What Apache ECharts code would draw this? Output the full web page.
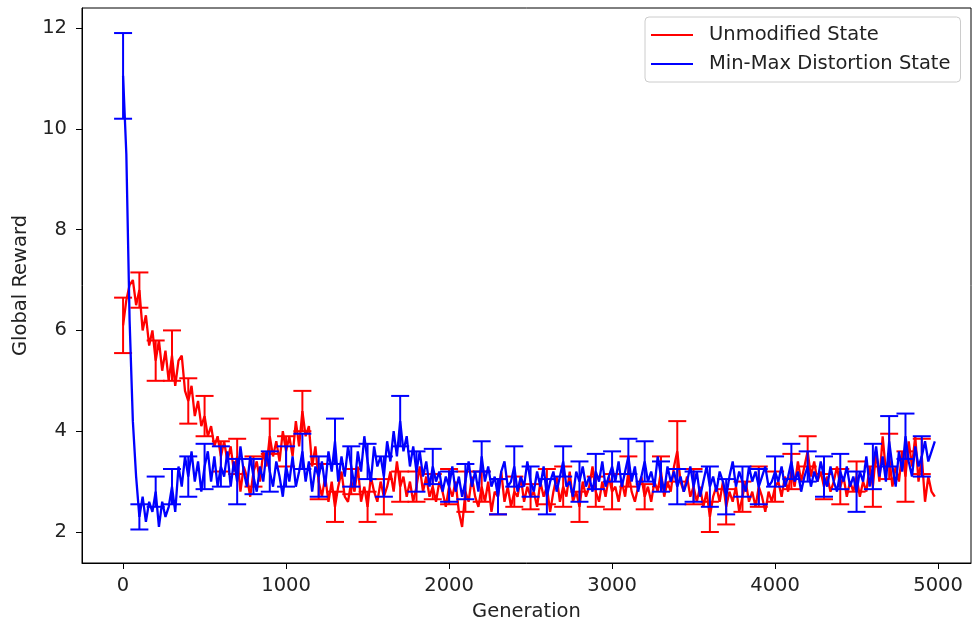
<!DOCTYPE html>
<html>
<head>
<meta charset="utf-8">
<script src="https://cdn.jsdelivr.net/npm/echarts@6/dist/echarts.min.js"></script>
<style>html,body{margin:0;padding:0;background:#fff;}#c{width:972px;height:628px;}</style>
</head>
<body>
<div id="c"></div>
<script>
// Generation step between consecutive points
const genStep = 20;
const errEvery = 5; // error bar every 5th point (100 generations)

const xTicks = [0, 1000, 2000, 3000, 4000, 5000];
const yTicks = [2, 4, 6, 8, 10, 12];

const seriesNames = ['Unmodified State', 'Min-Max Distortion State'];

const unmodified = [
  6.1, 6.6, 6.9, 7.0, 6.5, 6.8, 6.0, 6.3, 5.7, 6.0, 5.4, 5.8, 5.2,
  5.6, 5.0, 5.5, 4.9, 5.4, 5.5, 4.8, 4.6, 4.9, 4.3, 4.6, 4.1, 4.3,
  3.9, 4.1, 3.7, 3.9, 3.5, 3.8, 3.4, 3.7, 3.2, 3.5, 2.8, 3.3, 3.1, 2.7, 3.2,
  3.4, 3.0, 3.6, 3.3, 3.9, 3.5, 3.8, 3.4, 4.0, 3.6, 3.9, 3.5, 4.2, 3.7, 4.4, 3.9, 4.1, 3.3, 3.7, 3.0,
  2.7, 3.1, 2.6, 3.0, 2.5, 2.9, 3.2, 2.7, 2.6, 3.0, 2.8, 3.3, 2.6, 2.9, 2.5, 3.1, 2.8, 2.6, 3.0, 2.7,
  2.9, 3.2, 2.8, 3.4, 2.9, 3.1, 2.7, 3.0, 2.6, 2.9, 3.3, 2.8, 3.1, 2.7, 2.9, 2.6, 3.0, 2.8, 2.5, 2.9,
  2.7, 3.0, 2.4, 2.1, 2.8, 2.6, 3.1, 2.7, 2.5, 2.9, 2.6, 3.0, 2.4, 2.8, 2.7, 3.2, 2.6, 2.9, 2.5, 2.8, 2.7, 3.1, 2.6, 2.9, 2.7,
  2.8, 2.5, 3.0, 2.7, 2.9, 2.4, 2.8, 3.1, 2.6, 2.9, 2.7, 3.2, 2.6, 2.8, 2.5, 3.0, 2.7, 2.9, 3.3, 2.8, 2.6, 3.0, 2.7, 3.1, 2.8,
  2.9, 2.6, 3.0, 2.7, 3.2, 2.8, 2.6, 2.9, 3.1, 2.7, 2.9, 2.6, 3.0, 2.8, 3.2, 2.7, 3.0, 2.8, 3.3, 3.6, 3.0, 2.8, 3.1, 2.7, 2.9,
  2.6, 2.9, 2.5, 2.8, 2.3, 2.7, 2.9, 2.6, 3.0, 2.5, 2.8, 2.6, 2.9, 2.4, 2.7, 3.0, 2.6, 2.8, 2.5, 2.9, 2.7, 2.4, 2.8, 2.6, 2.9,
  3.0, 2.7, 3.1, 2.8, 3.2, 2.9, 3.4, 3.0, 3.3, 3.6, 3.1, 3.4, 3.0, 3.2, 2.9, 3.1, 2.8, 3.0, 3.3, 2.9, 3.1, 2.7, 3.0, 2.8, 3.1,
  2.7, 3.0, 2.8, 3.3, 2.9, 3.6, 3.0, 3.9, 3.2, 3.5, 2.9, 3.3, 3.0, 3.6, 3.1, 3.8, 3.3, 3.9, 3.0, 3.5, 2.6, 3.1, 2.8, 2.7
];

const minMax = [
  11.05, 9.5, 6.2, 4.2, 3.1, 2.3, 2.7, 2.2, 2.6, 2.4, 2.8, 2.1, 2.6, 2.3, 2.5, 2.9, 2.4,
  3.3, 2.9, 3.5, 3.1, 3.6, 3.0, 3.4, 2.8, 3.3, 3.6, 3.0, 3.5, 2.9, 3.3,
  3.1, 3.6, 2.9, 3.4, 3.0, 3.7, 3.2, 2.9, 3.5, 3.1, 2.8, 3.3, 3.0, 3.6, 3.2, 2.9, 3.4, 3.1, 2.7, 3.3,
  3.0, 3.5, 2.9, 3.2, 3.6, 3.0, 3.4, 2.8, 3.3, 3.1,
  3.4, 2.9, 3.6, 3.2, 3.8, 3.0, 3.5, 3.1, 3.7, 3.3,
  2.9, 3.6, 3.2, 3.9, 3.4, 3.0, 3.7, 3.3, 3.5, 3.1,
  3.8, 3.4, 4.0, 3.5, 4.2, 3.6, 3.9, 3.3, 3.7, 3.2,
  3.6, 3.1, 3.4, 2.9, 3.3, 3.0, 3.2, 2.8, 3.1, 2.9,
  3.3, 2.8, 3.1, 2.7, 3.0, 3.4, 2.9, 3.2, 2.8, 3.5,
  3.0, 3.3, 2.9, 3.1, 2.7, 3.2, 3.4, 2.9, 3.0, 3.3,
  2.8, 3.1, 2.9, 3.4, 3.0, 2.8, 3.2, 2.9, 3.3, 2.7,
  3.0, 3.2, 2.8, 3.1, 3.4, 2.9, 3.0, 2.7, 3.2, 3.0,
  3.3, 2.9, 3.1, 2.8, 3.2, 3.0, 3.4, 2.9, 3.1, 3.3,
  3.0, 3.4, 2.9, 3.2, 3.5, 3.0, 3.3, 2.8, 3.1, 3.4,
  3.0, 3.2, 2.9, 3.5, 3.1, 2.8, 3.3, 3.0, 3.2, 2.9,
  3.1, 2.8, 3.0, 3.3, 2.9, 3.2, 2.7, 3.0, 3.3, 2.9,
  3.1, 2.8, 3.2, 3.0, 2.7, 3.1, 3.4, 2.9, 3.2, 3.0,
  2.8, 3.3, 3.0, 3.2, 2.9, 3.1, 3.3, 2.9, 3.0, 3.2,
  3.0, 3.3, 2.9, 3.1, 3.4, 3.0, 3.2, 2.8, 3.1, 3.3,
  2.9, 3.2, 3.0, 3.4, 3.1, 2.9, 3.3, 3.0, 2.8, 3.2,
  3.0, 3.3, 2.9, 3.1, 2.8, 3.2, 3.0, 3.5, 2.9, 3.3,
  3.7, 3.1, 3.5, 3.0, 3.8, 3.3, 2.9, 3.6, 3.2, 3.9,
  3.4, 3.1, 3.7, 3.3, 3.5, 3.8, 3.4, 3.6, 3.8
];

// half-widths of the error bars, one per 100 generations
const unmodifiedErr = [
  0.55, 0.35, 0.4, 0.5, 0.45, 0.4, 0.3, 0.35, 0.3, 0.35,
  0.3, 0.4, 0.35, 0.3, 0.25, 0.3, 0.35, 0.3, 0.3, 0.25,
  0.35, 0.4, 0.3, 0.35, 0.3, 0.25, 0.35, 0.4, 0.3, 0.3,
  0.35, 0.3, 0.25, 0.3, 0.6, 0.35, 0.3, 0.35, 0.3, 0.4,
  0.3, 0.35, 0.3, 0.25, 0.35, 0.3, 0.4, 0.45, 0.5, 0.35
];
const minMaxErr = [
  0.85, 0.25, 0.3, 0.35, 0.4, 0.45, 0.4, 0.45, 0.35, 0.4,
  0.4, 0.35, 0.4, 0.45, 0.4, 0.35, 0.4, 0.5, 0.4, 0.35,
  0.3, 0.35, 0.3, 0.35, 0.4, 0.3, 0.35, 0.3, 0.4, 0.35,
  0.3, 0.35, 0.4, 0.3, 0.35, 0.3, 0.4, 0.35, 0.3, 0.35,
  0.3, 0.35, 0.3, 0.4, 0.35, 0.4, 0.45, 0.5, 0.45, 0.4
];

const colors = ['#ff0000', '#0000ff'];
const font = 'DejaVu Sans';
const textColor = '#222';

function toPoints(vals) {
  return vals.map((v, i) => [i * genStep, v]);
}
function toErr(vals, errs) {
  return errs.map((e, k) => {
    const i = k * errEvery;
    return [i * genStep, vals[i] - e, vals[i] + e];
  });
}
function errRender(color) {
  return function (params, api) {
    const x = api.value(0);
    const lo = api.coord([x, api.value(1)]);
    const hi = api.coord([x, api.value(2)]);
    const cap = 9;
    const style = { stroke: color, lineWidth: 2 };
    return {
      type: 'group',
      children: [
        { type: 'line', shape: { x1: lo[0], y1: lo[1], x2: hi[0], y2: hi[1] }, style },
        { type: 'line', shape: { x1: lo[0] - cap, y1: lo[1], x2: lo[0] + cap, y2: lo[1] }, style },
        { type: 'line', shape: { x1: hi[0] - cap, y1: hi[1], x2: hi[0] + cap, y2: hi[1] }, style }
      ]
    };
  };
}

const chart = echarts.init(document.getElementById('c'), null, { renderer: 'canvas' });
chart.setOption({
  animation: false,
  backgroundColor: '#fff',
  grid: { left: 82, top: 8, right: 1, bottom: 65, show: true, borderColor: '#000', borderWidth: 1, containLabel: false },
  legend: {
    data: seriesNames.map(n => ({ name: n, icon: 'rect' })),
    orient: 'vertical',
    left: 645,
    top: 17,
    padding: [8, 10, 8, 6],
    itemGap: 9,
    itemWidth: 42,
    itemHeight: 2,
    backgroundColor: '#fff',
    borderColor: '#cccccc',
    borderWidth: 1,
    borderRadius: 4,
    textStyle: { fontFamily: font, fontSize: 19.5, lineHeight: 20, color: textColor, padding: [0, 0, 0, 11] }
  },
  xAxis: {
    type: 'value',
    min: -252,
    max: 5202,
    name: 'Generation',
    nameLocation: 'middle',
    nameGap: 39,
    nameTextStyle: { fontFamily: font, fontSize: 19.5, color: textColor },
    splitLine: { show: false },
    axisLine: { show: true, onZero: false, lineStyle: { color: '#000', width: 1 } },
    axisTick: { show: true, length: 6, lineStyle: { color: '#000' }, customValues: xTicks },
    axisLabel: { fontFamily: font, fontSize: 19.5, color: textColor, margin: 13, customValues: xTicks, formatter: v => String(v) }
  },
  yAxis: {
    type: 'value',
    min: 1.385,
    max: 12.397,
    name: 'Global Reward',
    nameLocation: 'middle',
    nameGap: 48,
    nameTextStyle: { fontFamily: font, fontSize: 19.5, color: textColor },
    splitLine: { show: false },
    axisLine: { show: true, onZero: false, lineStyle: { color: '#000', width: 1 } },
    axisTick: { show: true, length: 6, lineStyle: { color: '#000' }, customValues: yTicks },
    axisLabel: { fontFamily: font, fontSize: 19.5, color: textColor, margin: 15, customValues: yTicks, formatter: v => String(v) }
  },
  series: [
    {
      name: seriesNames[0], type: 'line', data: toPoints(unmodified),
      showSymbol: false, symbol: 'none', lineStyle: { color: colors[0], width: 2.3 }, itemStyle: { color: colors[0] }, z: 2
    },
    {
      name: 'err0', type: 'custom', data: toErr(unmodified, unmodifiedErr),
      renderItem: errRender(colors[0]), encode: { x: 0, y: [1, 2] }, z: 3, silent: true
    },
    {
      name: seriesNames[1], type: 'line', data: toPoints(minMax),
      showSymbol: false, symbol: 'none', lineStyle: { color: colors[1], width: 2.3 }, itemStyle: { color: colors[1] }, z: 4
    },
    {
      name: 'err1', type: 'custom', data: toErr(minMax, minMaxErr),
      renderItem: errRender(colors[1]), encode: { x: 0, y: [1, 2] }, z: 5, silent: true
    }
  ]
});
</script>
</body>
</html>
